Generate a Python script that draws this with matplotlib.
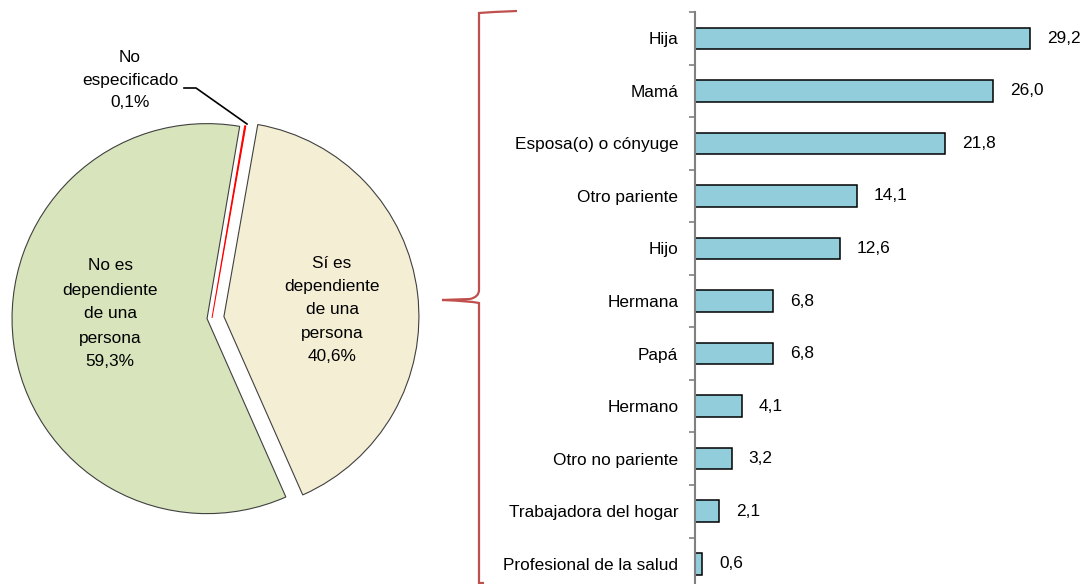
import matplotlib
matplotlib.use("Agg")
import matplotlib.pyplot as plt
from matplotlib.path import Path
from matplotlib.patches import PathPatch

plt.rcParams['font.family'] = ['Liberation Sans', 'DejaVu Sans']

# ---- data ----
pie_labels = ["Sí es\ndependiente\nde una\npersona", "No es\ndependiente\nde una\npersona", "No\nespecificado"]
pie_values = [40.6, 59.3, 0.1]

categories = ["Hija", "Mamá", "Esposa(o) o cónyuge", "Otro pariente", "Hijo",
              "Hermana", "Papá", "Hermano", "Otro no pariente",
              "Trabajadora del hogar", "Profesional de la salud"]
values = [29.2, 26.0, 21.8, 14.1, 12.6, 6.8, 6.8, 4.1, 3.2, 2.1, 0.6]

W, H = 1083, 584
fig = plt.figure(figsize=(W / 100, H / 100), dpi=100)
FS = 12.4

# ---- overlay axes in pixel units (y up) ----
ov = fig.add_axes([0, 0, 1, 1])
cx, cy, r = 212, H - 318, 195
wedges, _ = ov.pie(pie_values, startangle=80, counterclock=False,
                   explode=[12, 5, 0.0], radius=r, center=(cx, cy),
                   colors=["#F4EED4", "#D7E4BC", "#FF0000"], frame=True)
for w in wedges[:2]:
    w.set_edgecolor("#404040")
    w.set_linewidth(0.8)
wedges[2].set_edgecolor("#FF0000")
wedges[2].set_linewidth(0.7)
ov.set_xlim(0, W)
ov.set_ylim(0, H)
ov.set_aspect('auto')
ov.axis('off')

LS = 1.75
ov.text(110, H - 314, f"{pie_labels[1]}\n{pie_values[1]:.1f}%".replace('.', ','),
        ha='center', va='center', fontsize=FS, linespacing=LS)
ov.text(332, H - 310, f"{pie_labels[0]}\n{pie_values[0]:.1f}%".replace('.', ','),
        ha='center', va='center', fontsize=FS, linespacing=1.68)
ov.text(130, H - 80, f"{pie_labels[2]}\n{pie_values[2]:.1f}%".replace('.', ','),
        ha='center', va='center', fontsize=FS, linespacing=1.6)
# leader line
ov.plot([184, 196, 247], [H - 88, H - 88, H - 124], color='black', lw=1.2)

# cut-off title
ov.text(557, H + 5, "(Distribución porcentual)", ha='center', va='baseline', fontsize=FS)

# curly bracket
bx, tipx, tipy = 479, 442, H - 300
verts = [(517, H - 11), (490, H - 12), (479, H - 13), (bx, H - 22),
         (bx, H - 290), (bx, H - 297), (470, H - 299), (tipx, tipy),
         (470, H - 301), (bx, H - 303), (bx, H - 310),
         (bx, H - 583), (484, H - 583)]
codes = [Path.MOVETO, Path.CURVE3, Path.CURVE3, Path.LINETO,
         Path.LINETO, Path.CURVE3, Path.CURVE3, Path.LINETO,
         Path.CURVE3, Path.CURVE3, Path.LINETO,
         Path.LINETO, Path.LINETO]
ov.add_patch(PathPatch(Path(verts, codes), fill=False, edgecolor="#C0504D", lw=1.6))

# ---- bar chart ----
ax_left, ax_top, step = 695, 12, 52.55
n = len(categories)
ax_bottom_px = ax_top + n * step
px_per_unit = (1030 - 695) / 29.2
ax = fig.add_axes([ax_left / W, (H - ax_bottom_px) / H, (W - ax_left) / W, (ax_bottom_px - ax_top) / H])
ypos = list(range(n))
ax.barh(ypos, values, height=0.41, color="#92CDDC", edgecolor="black", linewidth=1.1)
ax.set_xlim(0, (W - ax_left) / px_per_unit)
ax.set_ylim(n - 0.5, -0.5)
ax.set_yticks(ypos)
ax.set_yticklabels(categories, fontsize=FS)
ax.set_yticks([i - 0.5 for i in range(n + 1)], minor=True)
ax.tick_params(axis='y', which='major', length=0, pad=12)
ax.tick_params(axis='y', which='minor', length=4, width=1.2, color='#808080', direction='out')
ax.set_xticks([])
for s in ['top', 'right', 'bottom']:
    ax.spines[s].set_visible(False)
ax.spines['left'].set_color('#808080')
ax.spines['left'].set_linewidth(1.5)
ax.patch.set_alpha(0)
for y, v in zip(ypos, values):
    ax.text(v + 17 / px_per_unit, y, f"{v:.1f}".replace('.', ','), va='center', ha='left', fontsize=FS)

fig.savefig("out.png", dpi=100)
